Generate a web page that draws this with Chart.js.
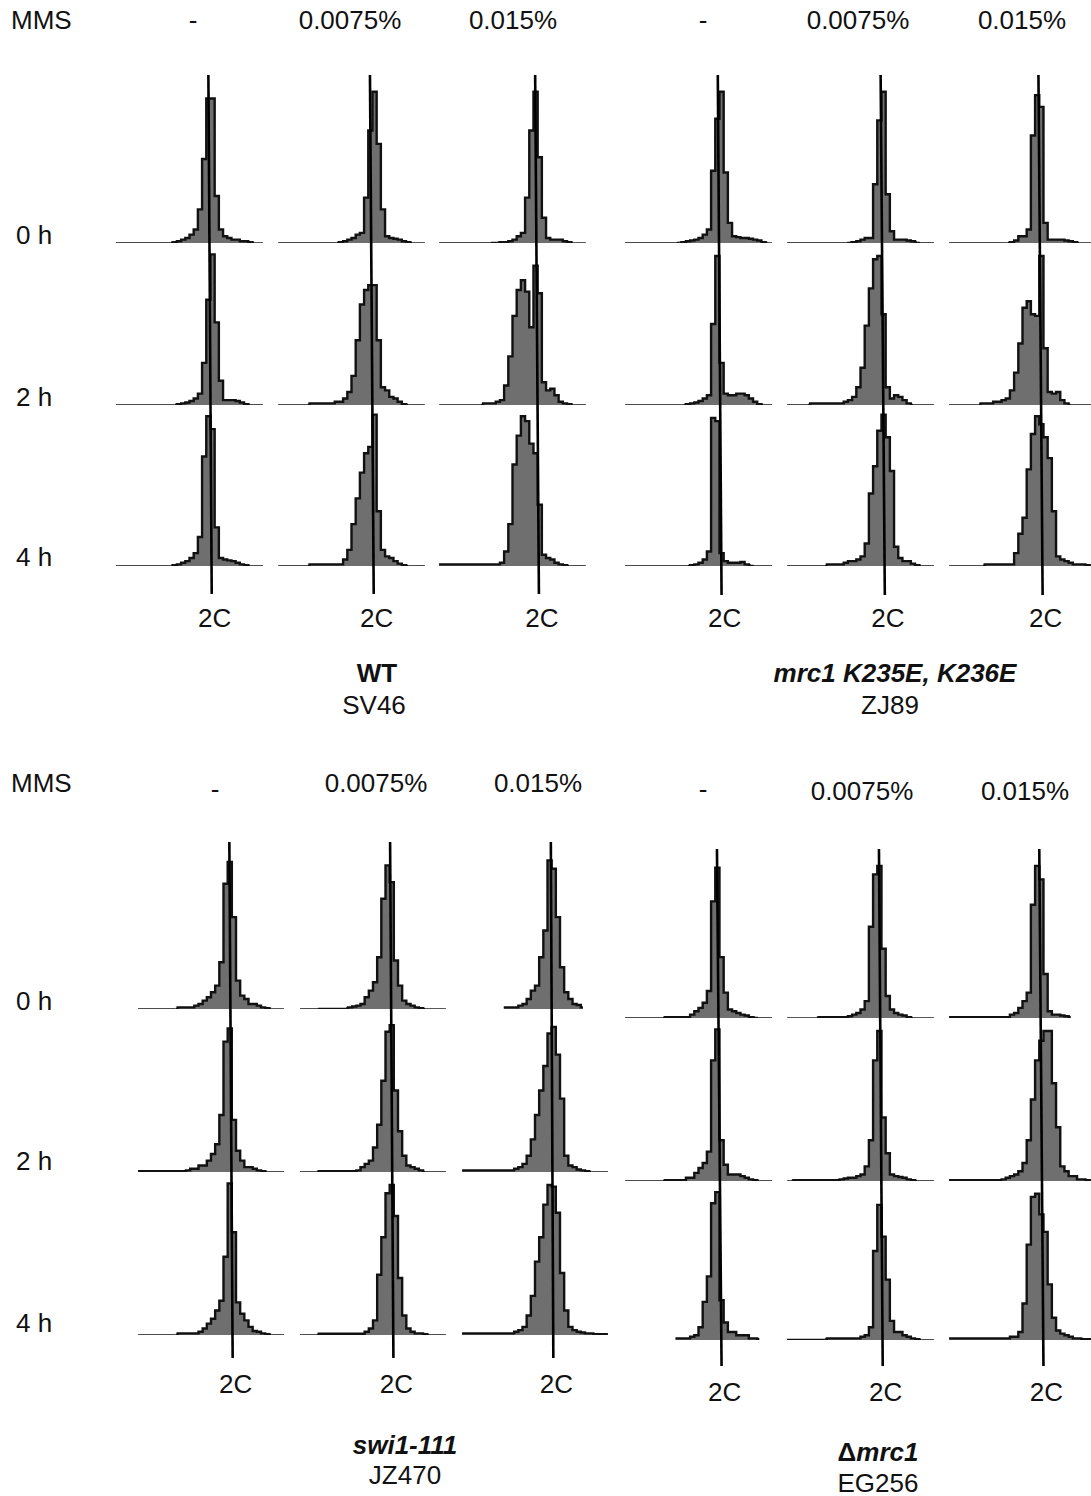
<!DOCTYPE html>
<html>
<head>
<meta charset="utf-8">
<script src="https://cdn.jsdelivr.net/npm/chart.js@4.4.1/dist/chart.umd.min.js"></script>
<style>
  html, body { margin: 0; padding: 0; background: #fff; }
  body { width: 1091px; height: 1496px; position: relative; overflow: hidden;
         font-family: "Liberation Sans", Arial, Helvetica, sans-serif; color: #111; }
  canvas { position: absolute; }
  .lbl { position: absolute; font-size: 26px; line-height: 1; white-space: nowrap; transform: translate(-50%, -50%); }
  .lbl.left { transform: translate(0, -50%); }
</style>
</head>
<body>
<script>
// DNA-content channels (36 per histogram)
const bins = [1,2,3,4,5,6,7,8,9,10,11,12,13,14,15,16,17,18,19,20,21,22,23,24,25,26,27,28,29,30,31,32,33,34,35,36];

const doses = ['-', '0.0075%', '0.015%'];
const times = ['0 h', '2 h', '4 h'];

// WT - SV46 (cell counts, % of row height)
const wt_none_0h = [0,0,0,0,0,0,0,0,0,0,0,0,0,0,0.5,1,2,3,5,8,20,50,86,86,28,8,4,3,2,2,1,1,0.5,0,0,0];
const wt_none_2h = [0,0,0,0,0,0,0,0,0,0,0,0,0,0,0,0.5,1,1.5,2.5,4,7,26,65,93,51,15,3,3,3,2.5,1.5,0.5,0,0,0,0];
const wt_none_4h = [0,0,0,0,0,0,0,0,0,0,0,0,0,0,0.5,1,2,3,5,8,18,68,93,85,24,5,4,3.5,3,2,1,0.5,0,0,0,0];
const wt_low_0h  = [0,0,0,0,0,0,0,0,0,0,0,0,0,0,0,0.5,1,2,3,5,6,27,67,90,59,20,4,3,2.5,2,1,0.5,0,0,0,0];
const wt_low_2h  = [0,0,0,0,0,0,0,0,1,1,1,1,1,1,2,2,4,8,18,40,62,71,74,74,40,11,9,5,4,2,0.5,0,0,0,0,0];
const wt_low_4h  = [0,0,0,0,0,0,0,0,1,1,1,1,1,1,1,1,4,10,26,42,58,70,74,94,34,10,6,5,3,1.5,0.5,0,0,0,0,0];
const wt_high_0h = [0,0,0,0,0,0,0,0,0,0,0,0,0,0.3,0.3,0.5,0.5,1,2,4,6,27,67,90,51,15,3,2,2,2,1,0.5,0,0,0,0];
const wt_high_2h = [0,0,0,0,0,0,0,0,0,0,0,1,1,1,2,3,12,30,55,71,77,70,48,86,69,14,9,10,6,2,1,0.5,0,0,0,0];
const wt_high_4h = [1,1,1,1,1,1,1,1,1,1,1,1,1,1,1,2,9,26,63,81,93,90,76,70,38,7,5,4,2,1,0.5,0,0,0,0,0];
const wt2CTop = [22.0, 21.9, 22.9];
const wt2CBottom = [22.8, 22.8, 23.8];

// mrc1 K235E, K236E - ZJ89
const kk_none_0h = [0,0,0,0,0,0,0,0,0,0,0,0,0,0.3,0.5,1,1.5,2,3,5,8,43,74,90,42,12,4,3.5,3,3,2.5,2,1.5,0.5,0,0];
const kk_none_2h = [0,0,0,0,0,0,0,0,0,0,0,0,0,0,0,0.5,1,1.5,2.5,4,6,50,92,26,7,6,6,7,7,6,4,2,0.5,0,0,0];
const kk_none_4h = [0,0,0,0,0,0,0,0,0,0,0,0,0,0,0,0,0.5,1,2,4,9,92,90,8,3,2,2,2,2.5,1,0.3,0,0,0,0,0];
const kk_low_0h  = [0,0,0,0,0,0,0,0,0,0,0,0,0,0,0,0.3,0.5,1,2,3,3,35,73,90,29,7,2,2,2,1.5,1,0.3,0,0,0,0];
const kk_low_2h  = [0,0,0,0,0,0,1,1,1,1,1,1,1,1,2,3,5,11,23,49,72,90,92,56,11,4,6,5,3,1,0,0,0,0,0,0];
const kk_low_4h  = [0,0,0,0,0,0,0,0,0,0,1,1,1,1,2,3,3,4,6,14,45,62,84,94,80,59,12,5,3,3,1.5,0.5,0,0,0,0];
const kk_high_0h = [0,0,0,0,0,0,0,0,0,0,0,0,0,0,0,0.5,1.5,4,4,8,64,88,81,12,2,2,2,2,1.5,1,0.5,0,0,0,0,0];
const kk_high_2h = [0,0,0,0,0,0,0,0,1,1,1,2,2,3,4,9,20,38,60,64,56,55,92,35,8,7,8,3,1,0,0,0,0,0,0,0];
const kk_high_4h = [0,0,0,0,0,0,0,0,0,1,1,1,1,1,1,1,8,20,30,60,82,93,88,80,67,34,6,4,3,2,1,1,1,0.5,0,0];
const kk2CTop = [22.1, 22.3, 21.3];
const kk2CBottom = [23.0, 23.3, 22.3];

// swi1-111 - JZ470
const swi_none_0h = [0,0,0,0,0,0,0,0,0,0,1,1,1,1,2,3,5,7,10,14,28,75,88,55,17,8,6,3,3,2,1,0.5,0,0,0,0];
const swi_none_2h = [0.5,0.5,0.5,0.5,0.5,0.5,0.5,0.5,0.5,0.5,0.5,0.5,1,2,2,4,4,7,11,17,35,80,88,32,13,7,3,3,2,1,0.5,0,0,0,0,0];
const swi_none_4h = [0,0,0,0,0,0,0,0,0,0,1,1,1,1,1,2,4,7,10,15,21,48,93,63,20,13,9,5,2.5,2,1,0.5,0,0,0,0];
const swi_low_0h  = [0,0,0,0,0,0.3,0.3,0.3,0.3,0.3,0.3,0.3,1,1.5,2,3,7,11,16,31,66,86,76,29,14,5,3,2,1,0.5,0,0,0,0,0,0];
const swi_low_2h  = [0,0,0,0,0,0.5,0.5,0.5,0.5,0.5,0.5,0.5,0.5,0.5,1,3,5,7,15,29,56,86,90,50,25,10,4,3,2,1,0,0,0,0,0,0];
const swi_low_4h  = [0,0,0,0,0,0.8,0.8,0.8,0.8,0.8,0.8,0.8,0.8,0.8,0.8,0.8,2,4,9,37,60,87,92,73,35,12,4,2,1,1,0.5,0,0,0,0,0];
const swi_high_0h = [null,null,null,null,null,null,null,null,null,null,1,1,1,1,2,3,6,11,14,31,47,89,84,55,25,10,6,3,2.4,1,null,null,null,null,null,null];
const swi_high_2h = [1,1,1,1,1,1,1,1,1,1,1,1,1,2,3,5,10,20,35,50,65,85,89,72,45,10,4,3,1.5,1,0.5,0,0,0,0,0];
const swi_high_4h = [1,1,1,1,1,1,1,1,1,1,1,1,1,2,3,5,12,24,45,60,80,92,91,75,38,15,5,3,2,1.5,1,1,0.5,0.5,0.5,0.5];
const swi2CTop = [21.9, 21.6, 21.3];
const swi2CBottom = [22.7, 22.4, 21.9];

// Δmrc1 - EG256
const dm_none_0h = [0,0,0,0,0,0,0,0,0,0,0.5,0.5,0.5,0.5,0.5,0.5,2,4,6,9,16,69,89,36,15,5,4,3,2,1.5,0.5,0.3,0,0,0,0];
const dm_none_2h = [0,0,0,0,0,0,0,0,0,0,0.5,0.5,0.5,0.5,0.5,2,2,5,8,11,18,74,93,25,10,4,4,4,3,2,1,0.5,0,0,0,0];
const dm_none_4h = [null,null,null,null,null,null,null,null,null,null,null,null,1,1,1,1,2,3,8,24,40,86,93,25,11,5,5,3,3,3,1,1,0.5,null,null,null];
const dm_low_0h  = [0,0,0,0,0,0,0,0,0.5,0.5,0.5,0.5,0.5,0.5,0.5,1,2,3,5,10,54,85,90,41,13,5,3,2,1.5,0.5,0,0,0,0,0,0];
const dm_low_2h  = [0,0,0.5,0.5,0.5,0.5,0.5,0.5,0.5,0.5,0.5,0.5,0.5,1,1.5,2,2,3,4,9,25,74,92,39,17,4,3,2.5,2,1,0.5,0,0,0,0,0];
const dm_low_4h  = [0.3,0.3,0.3,0.3,0.3,0.3,0.3,0.3,0.3,0.3,1,1,1,1,1,1,1,1,2,3,8,56,85,65,38,12,5,5,3,2,1,0.5,0,0,0,0];
const dm_high_0h = [0.5,0.5,0.5,0.5,0.5,0.5,0.5,0.5,0.5,0.5,0.5,0.5,0.5,0.5,0.5,2,3,6,10,15,67,90,82,26,4,2,2,1.5,1,0.5,null,null,null,null,null,null];
const dm_high_2h = [0.5,0.5,0.5,0.5,0.5,0.5,0.5,0.5,0.5,0.5,0.5,0.5,0.5,1,2,3,4,6,11,25,50,74,86,92,92,60,33,9,6,3,3,1,1,0.5,0.5,0.5];
const dm_high_4h = [1,1,1,1,1,1,1,1,1,1,1,1,1,1,1,2,2,5,23,60,90,92,79,68,35,14,6,4,3,2,1,1,0.5,0.5,0.5,0.5];
const dm2CTop = [21.9, 21.9, 21.5];
const dm2CBottom = [23.0, 22.8, 22.5];

// Page layout of the four panels
const panels = [
  {
    cells: [[wt_none_0h, wt_none_2h, wt_none_4h], [wt_low_0h, wt_low_2h, wt_low_4h], [wt_high_0h, wt_high_2h, wt_high_4h]],
    twoCTop: wt2CTop, twoCBottom: wt2CBottom,
    lefts: [114, 276, 437], width: 151, top: 75, bases: [243, 405, 566], bottom: 594,
    mmsY: 20, doseX: [193, 350, 513], doseY: [20, 20, 20], rowY: [235, 397, 557], twoCY: 618,
    title: '<b>WT</b>', titleX: 377, titleY: 673, strain: 'SV46', strainX: 374, strainY: 705
  },
  {
    cells: [[kk_none_0h, kk_none_2h, kk_none_4h], [kk_low_0h, kk_low_2h, kk_low_4h], [kk_high_0h, kk_high_2h, kk_high_4h]],
    twoCTop: kk2CTop, twoCBottom: kk2CBottom,
    lefts: [623, 785, 947], width: 151, top: 75, bases: [243, 405, 566], bottom: 595,
    mmsY: null, doseX: [703, 858, 1022], doseY: [20, 20, 20], rowY: null, twoCY: 618,
    title: '<b><i>mrc1 K235E, K236E</i></b>', titleX: 895, titleY: 673, strain: 'ZJ89', strainX: 890, strainY: 705
  },
  {
    cells: [[swi_none_0h, swi_none_2h, swi_none_4h], [swi_low_0h, swi_low_2h, swi_low_4h], [swi_high_0h, swi_high_2h, swi_high_4h]],
    twoCTop: swi2CTop, twoCBottom: swi2CBottom,
    lefts: [136, 298, 460], width: 150, top: 842, bases: [1009, 1172, 1335], bottom: 1358,
    mmsY: 783, doseX: [215, 376, 538], doseY: [789, 783, 783], rowY: [1001, 1161, 1323], twoCY: 1384,
    title: '<b><i>swi1-111</i></b>', titleX: 405, titleY: 1445, strain: 'JZ470', strainX: 405, strainY: 1475
  },
  {
    cells: [[dm_none_0h, dm_none_2h, dm_none_4h], [dm_low_0h, dm_low_2h, dm_low_4h], [dm_high_0h, dm_high_2h, dm_high_4h]],
    twoCTop: dm2CTop, twoCBottom: dm2CBottom,
    lefts: [623, 785, 947], width: 151, top: 849, bases: [1018, 1181, 1340], bottom: 1366,
    mmsY: null, doseX: [703, 862, 1025], doseY: [789, 791, 791], rowY: null, twoCY: 1392,
    title: '<b>Δ<i>mrc1</i></b>', titleX: 878, titleY: 1452, strain: 'EG256', strainX: 878, strainY: 1483
  }
];

// Draws the 2C reference line through the three stacked histograms
const twoCLine = {
  id: 'twoCLine',
  afterDatasetsDraw(chart, args, opts) {
    const { ctx, chartArea, scales: { x } } = chart;
    ctx.save();
    ctx.strokeStyle = '#000';
    ctx.lineWidth = 2.6;
    ctx.beginPath();
    ctx.moveTo(x.getPixelForValue(opts.top), chartArea.top);
    ctx.lineTo(x.getPixelForValue(opts.bottom), chart.height);
    ctx.stroke();
    ctx.restore();
  }
};

function addLabel(html, x, y, cls) {
  const d = document.createElement('div');
  d.className = 'lbl' + (cls ? ' ' + cls : '');
  d.innerHTML = html;
  d.style.left = x + 'px';
  d.style.top = y + 'px';
  document.body.appendChild(d);
}

panels.forEach(p => {
  const weights = [p.bases[0] - p.top, p.bases[1] - p.bases[0], p.bases[2] - p.bases[1]];
  const rowScale = (w) => ({
    type: 'linear', position: 'right', stack: 'rows', stackWeight: w,
    min: 0, max: 100, display: false
  });

  p.cells.forEach((rows, c) => {
    const canvas = document.createElement('canvas');
    canvas.width = p.width;
    canvas.height = p.bottom - p.top;
    canvas.style.left = p.lefts[c] + 'px';
    canvas.style.top = p.top + 'px';
    document.body.appendChild(canvas);

    const chart = new Chart(canvas, {
      type: 'line',
      data: {
        labels: bins,
        datasets: rows.map((vals, r) => ({
          data: vals,
          yAxisID: 'r' + r,
          stepped: 'middle',
          fill: 'origin',
          backgroundColor: '#6f6f6f',
          borderColor: '#111',
          borderWidth: 2.4,
          pointRadius: 0,
          segment: {
            borderWidth: s => (s.p0.parsed.y <= 0.3 && s.p1.parsed.y <= 0.3) ? 1.4 : 2.4
          }
        }))
      },
      options: {
        responsive: false,
        animation: false,
        events: [],
        layout: { padding: { top: 0, left: 0, right: 0, bottom: p.bottom - p.bases[2] } },
        plugins: {
          legend: { display: false },
          tooltip: { enabled: false },
          twoCLine: { top: p.twoCTop[c], bottom: p.twoCBottom[c] }
        },
        scales: {
          x: { type: 'category', offset: true, display: false },
          r0: rowScale(weights[0]),
          r1: rowScale(weights[1]),
          r2: rowScale(weights[2])
        }
      },
      plugins: [twoCLine]
    });

    const lineX = chart.scales.x.getPixelForValue(p.twoCBottom[c]) + p.lefts[c];
    addLabel('2C', lineX + 3, p.twoCY);
    addLabel(doses[c], p.doseX[c], p.doseY[c]);
  });

  if (p.mmsY !== null) addLabel('MMS', 11, p.mmsY, 'left');
  if (p.rowY) times.forEach((t, i) => addLabel(t, 16, p.rowY[i], 'left'));
  addLabel(p.title, p.titleX, p.titleY);
  addLabel(p.strain, p.strainX, p.strainY);
});
</script>
</body>
</html>
